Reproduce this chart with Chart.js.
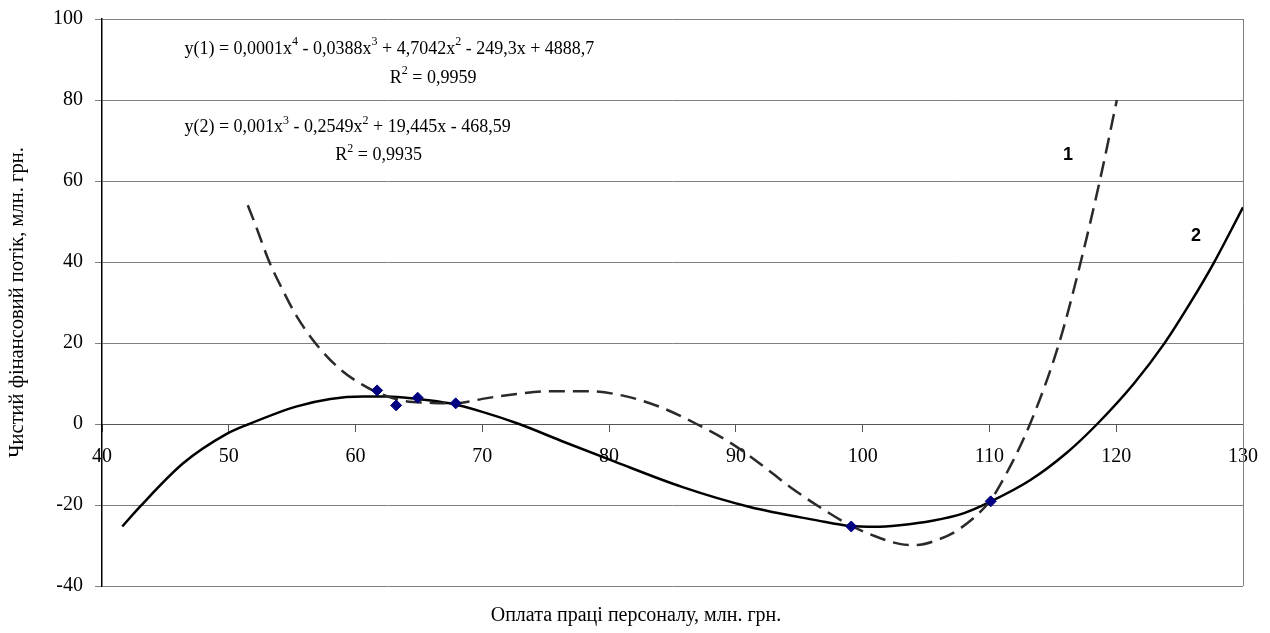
<!DOCTYPE html>
<html lang="uk">
<head>
<meta charset="UTF-8">
<title>Чистий фінансовий потік</title>
<style>
  body { margin: 0; background: #fff; }
  #wrap { width: 1270px; height: 633px; }
</style>
</head>
<body>
<div id="wrap"><canvas id="chart" width="1270" height="633"></canvas></div>
<script src="https://cdn.jsdelivr.net/npm/chart.js@4.4.1/dist/chart.umd.min.js"></script>
<script>
// observed points
const pointX = [61.7, 63.2, 64.9, 67.9, 99.1, 110.1];
const pointY = [8.3, 4.6, 6.5, 5.1, -25.3, -19.1];

// trend 1 (dashed, 4th order)
const trend1X = [51.5, 52.1, 53.2, 54.3, 55.3, 56.9, 58.9, 60.6, 61.5, 63.5, 66.1, 67.8, 69.2, 70, 72.7, 75.3, 78.2, 81.1, 84.1, 86.9, 89.5, 91.9, 94.3, 96.6, 99, 101.4, 102.9, 104.2, 106, 107.6, 110, 110.8, 113.2, 115.5, 117.2, 118.7, 120.05];
const trend1Y = [54, 49.2, 40, 32.8, 26.9, 19.7, 13.2, 9.6, 8.1, 5.9, 5.2, 5.1, 5.7, 6.2, 7.4, 8.1, 8.1, 7.0, 4.1, 0, -4.5, -9.8, -15.6, -20.5, -25, -28.2, -29.6, -29.9, -28.5, -26, -19.2, -15.3, 0, 20, 40, 60, 80];

// trend 2 (solid, cubic)
const trend2X = [41.6, 43, 46.4, 49.8, 51.6, 55.3, 58, 60.6, 62.5, 64.8, 67.4, 70, 72.9, 76.5, 80.2, 85.8, 91.1, 96.4, 99, 101, 102.9, 105.5, 108, 110, 113.2, 116.1, 118.5, 121.4, 123.8, 125.9, 127.7, 130];
const trend2Y = [-25.3, -20.4, -9.7, -2.5, 0, 4.3, 6.2, 6.8, 6.8, 6.2, 5.1, 3.0, 0, -4.5, -9, -15.6, -20.5, -23.8, -25.2, -25.4, -25, -23.9, -22.0, -19.3, -13.9, -7.1, 0, 10, 19.9, 30.2, 39.8, 53.5];

const xTicks = { min: 40, max: 130, step: 10 };
const yTicks = { min: -40, max: 100, step: 20 };

function toXY(xs, ys) {
    return xs.map((x, i) => ({ x: x, y: ys[i] }));
}

const serif = 'Liberation Serif';
const xTitle = 'Оплата праці персоналу, млн. грн.';

// equations & curve numbers, anchored in data units
const notes = [
    { x: 46.5, y: 92.6, parts: [['y(1) = 0,0001x'], ['4', 1], [' - 0,0388x'], ['3', 1], [' + 4,7042x'], ['2', 1], [' - 249,3x + 4888,7']] },
    { x: 62.7, y: 85.4, parts: [['R'], ['2', 1], [' = 0,9959']] },
    { x: 46.5, y: 73.2, parts: [['y(2) = 0,001x'], ['3', 1], [' - 0,2549x'], ['2', 1], [' + 19,445x - 468,59']] },
    { x: 58.4, y: 66.3, parts: [['R'], ['2', 1], [' = 0,9935']] }
];
const curveLabels = [
    { x: 116.2, y: 66.5, text: '1' },
    { x: 126.3, y: 46.5, text: '2' }
];

const notesPlugin = {
    id: 'notes',
    beforeDatasetsDraw(chart) {
        // right border of plot area
        const a = chart.chartArea;
        const ctx = chart.ctx;
        ctx.save();
        ctx.strokeStyle = '#808080';
        ctx.lineWidth = 1;
        ctx.beginPath();
        ctx.moveTo(a.right + 0.5, a.top);
        ctx.lineTo(a.right + 0.5, a.bottom);
        ctx.stroke();
        ctx.restore();
    },
    afterDatasetsDraw(chart) {
        const ctx = chart.ctx;
        const sx = chart.scales.x, sy = chart.scales.y;
        ctx.save();
        ctx.fillStyle = '#000';
        ctx.textBaseline = 'middle';
        ctx.textAlign = 'left';
        notes.forEach(n => {
            let px = sx.getPixelForValue(n.x);
            const py = sy.getPixelForValue(n.y);
            n.parts.forEach(p => {
                if (p[1]) {
                    ctx.font = '12px "' + serif + '"';
                    ctx.fillText(p[0], px, py - 7);
                } else {
                    ctx.font = '18px "' + serif + '"';
                    ctx.fillText(p[0], px, py);
                }
                px += ctx.measureText(p[0]).width;
            });
        });
        ctx.font = 'bold 18px "Liberation Sans"';
        ctx.textAlign = 'center';
        curveLabels.forEach(l => {
            ctx.fillText(l.text, sx.getPixelForValue(l.x), sy.getPixelForValue(l.y));
        });
        // x axis title under the plot
        ctx.font = '20px "' + serif + '"';
        ctx.fillText(xTitle, 636, chart.chartArea.bottom + 30);
        ctx.restore();
    }
};

new Chart(document.getElementById('chart'), {
    type: 'scatter',
    data: {
        datasets: [
            {
                label: 'тренд 1',
                data: toXY(trend1X, trend1Y),
                showLine: true,
                borderColor: '#2a2a2a',
                borderWidth: 2.5,
                borderDash: [16, 8],
                pointRadius: 0,
                cubicInterpolationMode: 'monotone',
                order: 2
            },
            {
                label: 'тренд 2',
                data: toXY(trend2X, trend2Y),
                showLine: true,
                borderColor: '#000',
                borderWidth: 2.5,
                pointRadius: 0,
                cubicInterpolationMode: 'monotone',
                order: 3
            },
            {
                label: 'дані',
                data: toXY(pointX, pointY),
                pointStyle: 'rectRot',
                pointRadius: 5.5,
                backgroundColor: '#000080',
                borderColor: '#000080',
                order: 1
            }
        ]
    },
    options: {
        responsive: false,
        animation: false,
        layout: { padding: { top: 19, right: 27, left: 0, bottom: 47 } },
        plugins: {
            legend: { display: false },
            tooltip: { enabled: false },
            title: { display: false }
        },
        scales: {
            x: {
                type: 'linear',
                position: { y: 0 },
                min: xTicks.min,
                max: xTicks.max,
                afterFit(scale) { scale.paddingLeft = 0; scale.paddingRight = 0; },
                ticks: {
                    stepSize: xTicks.step,
                    color: '#000',
                    padding: 14,
                    font: { family: serif, size: 20 }
                },
                grid: { drawOnChartArea: false, drawTicks: true, tickLength: 7, color: '#555' },
                border: { color: '#555', width: 1 }
            },
            y: {
                min: yTicks.min,
                max: yTicks.max,
                afterFit(scale) {
                    scale.width = 102;
                    scale.paddingTop = 0;
                    scale.paddingBottom = 0;
                },
                ticks: {
                    stepSize: yTicks.step,
                    color: '#000',
                    padding: 12,
                    font: { family: serif, size: 20 }
                },
                grid: { color: '#808080', tickLength: 7, lineWidth: 1 },
                border: { color: '#000', width: 1.5 },
                title: {
                    display: true,
                    text: 'Чистий фінансовий потік, млн. грн.',
                    color: '#000',
                    font: { family: serif, size: 20.5 },
                    padding: { top: 5, bottom: 0 }
                }
            }
        }
    },
    plugins: [notesPlugin]
});
</script>
</body>
</html>
